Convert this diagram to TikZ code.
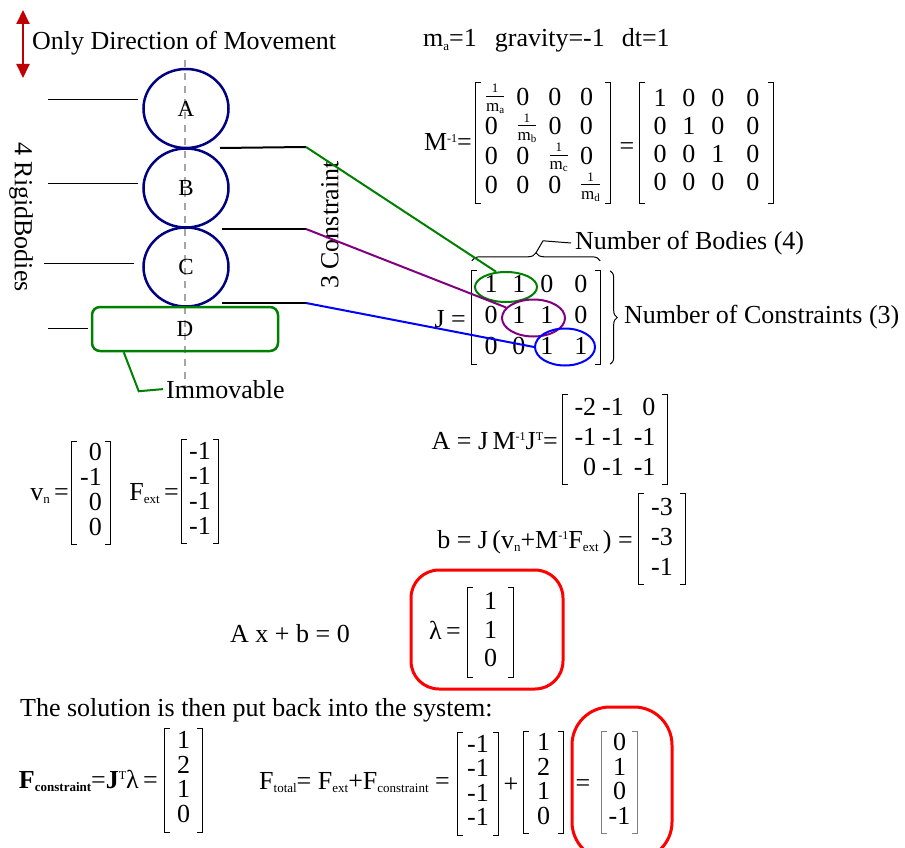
\documentclass[tikz,border=0pt]{standalone}
\usepackage{amsmath}
\usepackage{fontspec}
\setmainfont{Liberation Serif}
\usepackage{tikz}
\usetikzlibrary{positioning,arrows.meta,shapes.geometric,decorations.pathreplacing}

\definecolor{navy}{RGB}{0,0,128}
\definecolor{dkgreen}{RGB}{0,128,0}
\definecolor{purp}{RGB}{128,0,128}
\definecolor{dkred}{RGB}{192,0,0}

% small raised / lowered text
\newcommand{\sbs}[1]{\raisebox{-3.5pt}{\fontsize{13}{13}\selectfont #1}}
\newcommand{\sps}[1]{\raisebox{9pt}{\fontsize{12}{12}\selectfont #1}}
% 1 over m_x
\newcommand{\invm}[1]{\raisebox{3pt}{$\genfrac{}{}{}{1}{\text{\fontsize{13}{13}\selectfont 1}}{\text{\fontsize{17}{17}\selectfont m\raisebox{-2pt}{\fontsize{11}{11}\selectfont #1}}}$}}

\begin{document}
\begin{tikzpicture}[
    x=1pt, y=-1pt,
    font=\fontsize{26}{30}\selectfont,
    inner sep=0pt,
    body/.style={
        ellipse,
        draw=navy,
        line width=2.5pt,
        minimum width=85pt,
        minimum height=79pt,
        font=\fontsize{23}{26}\selectfont
    },
    ground/.style={
        rectangle,
        rounded corners=8pt,
        draw=dkgreen,
        line width=2.5pt,
        minimum width=186pt,
        minimum height=44pt,
        font=\fontsize{23}{26}\selectfont
    },
    pick/.style={ellipse, draw=#1, line width=2pt},
    solbox/.style={rectangle, draw=red, line width=3pt},
    lead/.style={line width=1pt},
    tie/.style={line width=2pt},
    link/.style={line width=2pt},
    move/.style={
        {Triangle[length=14pt,width=13pt]}-{Triangle[length=14pt,width=13pt]},
        line width=2pt, draw=dkred
    },
    axisline/.style={draw=gray!70, line width=1.2pt, dash pattern=on 7pt off 6pt},
    brc/.style={decorate, decoration={brace, amplitude=#1}, line width=1pt},
    brkl/.style={draw=#1, line width=1pt, to path={-- ++(-5pt,0) |- (\tikztotarget)}},
    brkr/.style={draw=#1, line width=1pt, to path={-- ++(5pt,0) |- (\tikztotarget)}},
    mat/.style 2 args={
        minimum width=#1,
        minimum height=#2,
        append after command={
            ([xshift=5pt]\tikzlastnode.north west) edge[brkl=black] ([xshift=5pt]\tikzlastnode.south west)
            ([xshift=-5pt]\tikzlastnode.north east) edge[brkr=black] ([xshift=-5pt]\tikzlastnode.south east)
        }
    },
    matg/.style 2 args={
        minimum width=#1,
        minimum height=#2,
        append after command={
            ([xshift=5pt]\tikzlastnode.north west) edge[brkl=gray] ([xshift=5pt]\tikzlastnode.south west)
            ([xshift=-5pt]\tikzlastnode.north east) edge[brkr=gray] ([xshift=-5pt]\tikzlastnode.south east)
        }
    }
]
\useasboundingbox (0,0) rectangle (905,848);

% the stack of bodies
\coordinate (mvtop) at (23,10);
\coordinate (mvbot) at (23,78);
\draw[move] (mvtop) -- (mvbot);
\node[anchor=base west] (dir) at (32,50) {Only Direction of Movement};

\draw[axisline] (185,60) -- (185,392);

\node[body] (A) at (186,108.5) {A};
\node[body] (B) at (186,188) {B};
\node[body] (C) at (186,267) {C};
\node[ground] (D) at (185,329) {D};

\draw[lead] ([xshift=-4pt,yshift=8.5pt]A.west) -- ++(-90,0);
\draw[lead] ([xshift=-4pt,yshift=5pt]B.west) -- ++(-90,0);
\draw[lead] ([xshift=-8pt,yshift=4pt]C.west) -- ++(-90,0);
\draw[lead] ([xshift=-3pt,yshift=1pt]D.west) -- ++(-40,0);

\node[rotate=-90] (rigid) at (21,217) {4 RigidBodies};
\node[rotate=90] (cons) at (330,225) {3 Constraint};

\node[anchor=base west, inner xsep=3pt] (immov) at (163,398) {Immovable};
\draw[link, dkgreen] ([xshift=33pt]D.south west) -- ++(15,39) -- (immov.west);

% masses
\node[anchor=base west] (params) at (423,47) {m\sbs{a}=1\hspace{18pt}gravity=-1\hspace{17pt}dt=1};

\node[anchor=base east] (Mlbl) at (472,151) {M\sps{-1}=};
\node[mat={134pt}{120pt}, font=\fontsize{26}{27}\selectfont] (Minv) at (543,143) {%
\begin{tabular}{@{}l@{\hspace{11pt}}l@{\hspace{11pt}}l@{\hspace{11pt}}l@{}}
\invm{a} & 0 & 0 & 0\\
0 & \invm{b} & 0 & 0\\
0 & 0 & \invm{c} & 0\\
0 & 0 & 0 & \invm{d}
\end{tabular}};
\node (Meq) at (627,149) {=};
\node[mat={133pt}{120pt}, font=\fontsize{26}{28}\selectfont] (Mid) at (706.5,143) {%
\begin{tabular}{@{}c@{\hspace{16pt}}c@{\hspace{16pt}}c@{\hspace{22pt}}c@{}}
1 & 0 & 0 & 0\\
0 & 1 & 0 & 0\\
0 & 0 & 1 & 0\\
0 & 0 & 0 & 0
\end{tabular}};

% jacobian
\node[anchor=base east] (Jlbl) at (466,327) {J =};
\node[mat={128pt}{89pt}, font=\fontsize{26}{31}\selectfont] (J) at (536,317.5) {%
\begin{tabular}{@{}c@{\hspace{15pt}}c@{\hspace{15pt}}c@{\hspace{21pt}}c@{}}
1 & 1 & 0 & 0\\
0 & 1 & 1 & 0\\
0 & 0 & 1 & 1
\end{tabular}};

\node[pick=dkgreen, minimum width=62pt, minimum height=30pt] (gJ) at (506,287) {};
\node[pick=purp, minimum width=63pt, minimum height=37pt] (pJ) at (533.5,318) {};
\node[pick=blue, minimum width=60pt, minimum height=37pt] (bJ) at (565,347) {};

\draw[brc=8pt] ([yshift=10pt]J.north west) -- ([yshift=10pt]J.north east);
\coordinate (btip) at ([yshift=18pt]J.north);
\node[anchor=west, inner xsep=4pt] (bodies) at (571,243) {Number of Bodies (4)};
\draw[lead] (btip) -- ++(7,-12) -- (bodies.west);

\draw[brc=7pt] ([xshift=10pt]J.north east) -- ([xshift=10pt]J.south east);
\node[anchor=west, inner xsep=4pt] (ncons) at (620,317) {Number of Constraints (3)};

\coordinate (t1) at (220,148);
\coordinate (k1) at (306,147);
\coordinate (t2) at (222,229);
\coordinate (k2) at (306,229);
\coordinate (t3) at (222,303);
\coordinate (k3) at (306,303);
\draw[tie] (t1) -- (k1);
\draw[tie] (t2) -- (k2);
\draw[tie] (t3) -- (k3);
\draw[link, dkgreen] (k1) -- (gJ.123);
\draw[link, purp] (k2) -- (pJ.159);
\draw[link, blue] (k3) -- (bJ.west);

% A and b
\node[anchor=base east] (Albl) at (558,449) {A = J\,M\sps{-1}J\sps{T}=};
\node[mat={104pt}{89pt}, font=\fontsize{26}{30}\selectfont] (Amat) at (615,439.5) {%
\begin{tabular}{@{}r@{\hspace{6pt}}r@{\hspace{10pt}}r@{}}
-2 & -1 & 0\\
-1 & -1 & -1\\
0 & -1 & -1
\end{tabular}};

\node[anchor=base east] (blbl) at (633,548) {b = J\,(v\sbs{n}+M\sps{-1}F\sbs{ext}\,) =};
\node[mat={46pt}{88pt}, font=\fontsize{26}{30}\selectfont] (bmat) at (662,539) {%
\begin{tabular}{@{}r@{}}-3\\-3\\-1\end{tabular}};

% velocity and forces
\node[anchor=base east] (vlbl) at (69,500) {v\sbs{n}\,=};
\node[mat={38pt}{102pt}, font=\fontsize{26}{25}\selectfont] (vn) at (91,493) {%
\begin{tabular}{@{}r@{}}0\\-1\\0\\0\end{tabular}};
\node[anchor=base east] (flbl) at (179,500) {F\sbs{ext}\,=};
\node[mat={36pt}{103pt}, font=\fontsize{26}{25}\selectfont] (fext) at (200,491.5) {%
\begin{tabular}{@{}r@{}}-1\\-1\\-1\\-1\end{tabular}};

% solve
\node[anchor=base west] (axb) at (230,642) {A x + b = 0};
\node[solbox, rounded corners=28pt, minimum width=152pt, minimum height=119pt] (lbox) at (487,629.5) {};
\node[anchor=base east] (llbl) at (461,639) {λ\,=};
\node[mat={45pt}{89pt}, font=\fontsize{26}{28.5}\selectfont] (lam) at (490.5,632.5) {%
\begin{tabular}{@{}c@{}}1\\1\\0\end{tabular}};

\node[anchor=base west] (sol) at (20,716) {The solution is then put back into the system:};

\node[anchor=base east] (fclbl) at (158,788) {\textbf{F\sbs{constraint}}=\textbf{J}\sps{T}λ\,=};
\node[mat={37pt}{103pt}, font=\fontsize{26}{24.5}\selectfont] (fc) at (183.5,780.5) {%
\begin{tabular}{@{}c@{}}1\\2\\1\\0\end{tabular}};

\node[anchor=base east] (ftlbl) at (450,789) {F\sbs{total}= F\sbs{ext}+F\sbs{constraint} =};
\node[mat={40pt}{102pt}, font=\fontsize{26}{24.5}\selectfont] (ft1) at (478,784) {%
\begin{tabular}{@{}r@{}}-1\\-1\\-1\\-1\end{tabular}};
\node (plus) at (511,785) {+};
\node[mat={39pt}{101pt}, font=\fontsize{26}{24.5}\selectfont] (ft2) at (543.5,782.5) {%
\begin{tabular}{@{}c@{}}1\\2\\1\\0\end{tabular}};
\node (eq3) at (583,786) {=};
\node[matg={35pt}{101pt}, font=\fontsize{26}{24.5}\selectfont] (ft3) at (619.5,782.5) {%
\begin{tabular}{@{}c@{}}0\\1\\0\\-1\end{tabular}};

\begin{scope}
\clip (0,0) rectangle (905,848);
\node[solbox, rounded corners=38pt, minimum width=100pt, minimum height=153pt] (tbox) at (622,783.5) {};
\end{scope}

\end{tikzpicture}
\end{document}
